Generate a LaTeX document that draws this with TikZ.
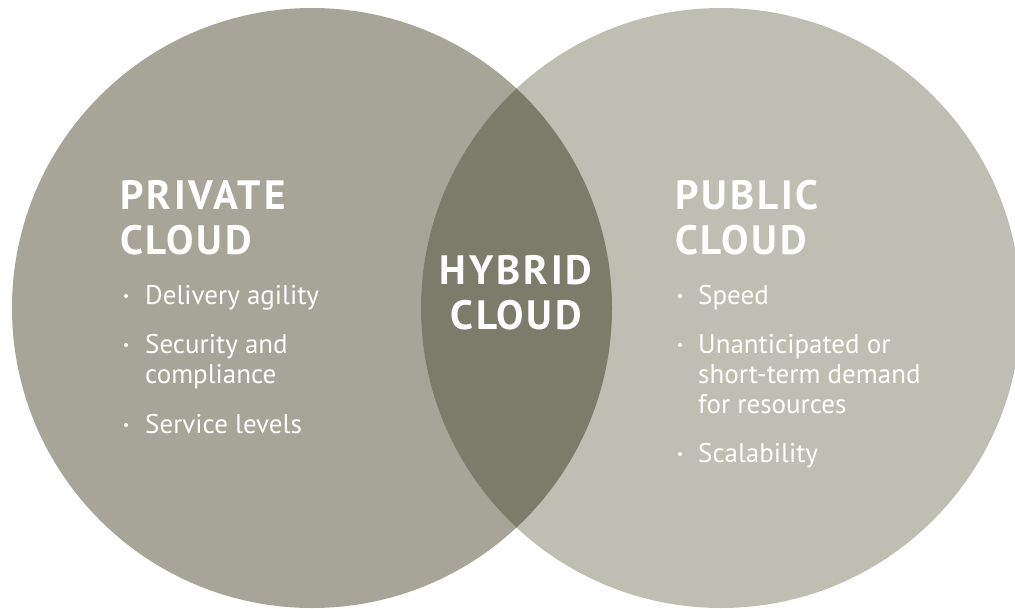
\documentclass[tikz,border=0pt]{standalone}
\usepackage{fontspec}
\setmainfont{PT Sans}
\newfontfamily\headfont[LetterSpace=7]{PT Sans Bold}
\begin{document}
\begin{tikzpicture}[x=1pt,y=-1pt,
  title/.style={anchor=base west,inner sep=0pt,text=white,font=\fontsize{41}{45}\headfont,align=left},
  item/.style={anchor=base west,inner sep=0pt,text=white,font=\fontsize{27}{30}\selectfont,align=left},
  dot/.style={circle,fill=white,inner sep=0pt,minimum size=4pt}]
\definecolor{privc}{RGB}{166,165,152}
\definecolor{pubc}{RGB}{190,191,178}
\definecolor{hybc}{RGB}{123,124,106}
\useasboundingbox (0,0) rectangle (1015,608);
% the two sets and their overlap
\fill[privc] (312,308) circle[radius=300];
\fill[pubc] (721,308) circle[radius=300];
\begin{scope}
  \clip (312,308) circle[radius=300];
  \fill[hybc] (721,308) circle[radius=300];
\end{scope}
% private cloud (multi-line nodes are placed by their last baseline)
\node[title] (privt) at (120,254) {PRIVATE\\CLOUD};
\node[dot] (pb1) at (126,296) {};
\node[item] (pi1) at (145,304) {Delivery agility};
\node[dot] (pb2) at (126,345) {};
\node[item] (pi2) at (145,383) {Security and\\compliance};
\node[dot] (pb3) at (126,425) {};
\node[item] (pi3) at (145,433) {Service levels};
% hybrid cloud
\node[title,anchor=base,align=center] (hyb) at (516,329) {HYBRID\\CLOUD};
% public cloud
\node[title] (pubt) at (675,254) {PUBLIC\\CLOUD};
\node[dot] (ub1) at (680,296) {};
\node[item] (ui1) at (698,304) {Speed};
\node[dot] (ub2) at (680,345) {};
\node[item] (ui2) at (698,413) {Unanticipated or\\short-term demand\\for resources};
\node[dot] (ub3) at (680,454) {};
\node[item] (ui3) at (698,462) {Scalability};
\end{tikzpicture}
\end{document}
